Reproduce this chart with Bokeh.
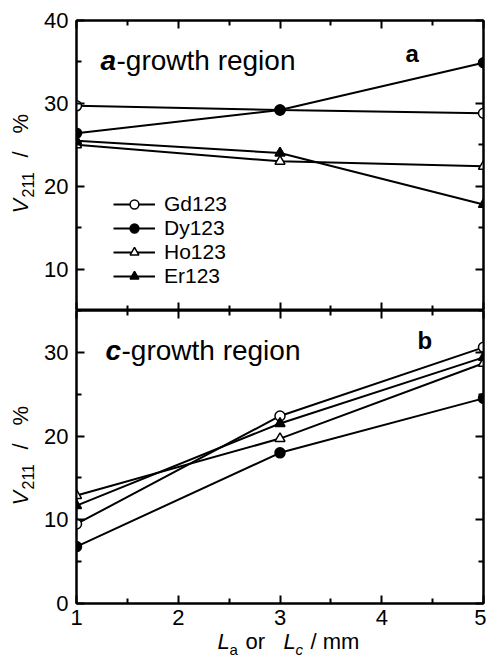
import math
from bokeh.plotting import figure
from bokeh.models import (Range1d, FixedTicker, LinearAxis, Label, Legend, LegendItem,
                          CustomJSTickFormatter)
from bokeh.layouts import column, row
from bokeh.embed import file_html
from bokeh.resources import INLINE

# ---------------- data ----------------
L = [1, 3, 5]
series_names = ["Gd123", "Dy123", "Ho123", "Er123"]
# panel a: a-growth region
a_gd = [29.7, 29.2, 28.8]
a_dy = [26.4, 29.2, 34.9]
a_ho = [25.0, 23.0, 22.4]
a_er = [25.5, 24.0, 17.8]
# panel b: c-growth region
c_gd = [9.5, 22.4, 30.6]
c_dy = [6.8, 18.0, 24.5]
c_ho = [12.9, 19.7, 28.7]
c_er = [11.7, 21.5, 29.4]

x_ticks = [1, 2, 3, 4, 5]
x_minor = [1.5, 2.5, 3.5, 4.5]
a_yticks = [10, 20, 30, 40]
b_yticks = [0, 10, 20, 30]
y_minor = [5, 15, 25, 35]

FONT = "Liberation Sans"
TICK_FS = "22px"

styles = [
    dict(marker="circle", fill="white"),
    dict(marker="circle", fill="black"),
    dict(marker="triangle", fill="white"),
    dict(marker="triangle", fill="black"),
]


def style_axis(ax, ticks, minor, labels, standoff=6):
    ax.ticker = FixedTicker(ticks=ticks, minor_ticks=minor)
    ax.axis_line_width = 2
    ax.axis_line_color = "black"
    ax.major_tick_in = 8
    ax.major_tick_out = 0
    ax.minor_tick_in = 5
    ax.minor_tick_out = 0
    ax.major_tick_line_width = 2
    ax.minor_tick_line_width = 2
    ax.major_tick_line_color = "black"
    ax.minor_tick_line_color = "black"
    if labels:
        ax.major_label_text_font = FONT
        ax.major_label_text_font_size = TICK_FS
        ax.major_label_text_color = "black"
        ax.major_label_standoff = standoff
    else:
        ax.formatter = CustomJSTickFormatter(code="return ''")
        ax.major_label_text_font_size = "1px"
        ax.major_label_standoff = 0


def make_fig(height, yr, border_top, border_bottom, yticks, bottom_labels):
    p = figure(width=446, height=height, x_range=Range1d(1, 5), y_range=Range1d(*yr),
               output_backend="svg", toolbar_location=None, title=None,
               x_axis_location=None, y_axis_location=None,
               min_border_left=36, min_border_right=3,
               min_border_top=border_top, min_border_bottom=border_bottom)
    p.grid.grid_line_color = None
    p.outline_line_color = "black"
    p.outline_line_width = 2
    p.background_fill_color = "white"
    p.border_fill_color = "white"
    left = LinearAxis()
    style_axis(left, yticks, y_minor, True, 8)
    p.add_layout(left, "left")
    right = LinearAxis()
    style_axis(right, yticks, y_minor, False)
    p.add_layout(right, "right")
    above = LinearAxis()
    style_axis(above, x_ticks, x_minor, False)
    p.add_layout(above, "above")
    below = LinearAxis()
    style_axis(below, x_ticks, x_minor, bottom_labels, 6)
    p.add_layout(below, "below")
    return p


def text_fig(width, height):
    f = figure(width=width, height=height, x_range=Range1d(0, width), y_range=Range1d(0, height),
               output_backend="svg", toolbar_location=None, title=None,
               x_axis_location=None, y_axis_location=None,
               min_border=0, min_border_left=0, min_border_right=0,
               min_border_top=0, min_border_bottom=0)
    f.grid.grid_line_color = None
    f.outline_line_color = None
    f.background_fill_color = "white"
    f.border_fill_color = "white"
    return f


def draw_series(p, data_list):
    rends = []
    for ys, st in zip(data_list, styles):
        ln = p.line(L, ys, line_color="black", line_width=2)
        sc = p.scatter(L, ys, marker=st["marker"], size=10, fill_color=st["fill"],
                       line_color="black", line_width=1.5)
        rends.append((ln, sc))
    return rends


def lab(p, text, x, y, fs, style="normal", rotated=False):
    # compensate the renderer's baseline offset (about 0.3 em)
    off = round(0.3 * fs)
    if rotated:
        x, y, angle = x - off, y, math.pi / 2
    else:
        x, y, angle = x, y + off, 0.0
    p.add_layout(Label(x=x, y=y, x_units="screen", y_units="screen", text=text,
                       text_font=FONT, text_font_size=f"{fs}px", text_font_style=style,
                       text_color="black", angle=angle, text_align="left",
                       text_baseline="alphabetic"))


def ylabel(f, y0):
    lab(f, "V", 27, y0, 22, "italic", True)
    lab(f, "211", 32, y0 + 16, 16, "normal", True)
    lab(f, "/", 27, y0 + 56, 22, "normal", True)
    lab(f, "%", 27, y0 + 80, 22, "normal", True)


# ---------------- top panel (a) ----------------
pa = make_fig(310, (5, 40), 20, 0, a_yticks, False)
ra = draw_series(pa, [a_gd, a_dy, a_ho, a_er])
items = [LegendItem(label=n, renderers=[r[0], r[1]]) for n, r in zip(series_names, ra)]
leg = Legend(items=items, location=(37, 22), glyph_width=42, glyph_height=22,
             label_standoff=9, label_text_font=FONT, label_text_font_size="21px",
             label_text_color="black", label_text_line_height=1.0,
             label_height=22, spacing=0, padding=0, margin=0,
             border_line_color=None, background_fill_alpha=0)
pa.add_layout(leg)
lab(pa, "a", 24, 242, 28, "bold italic")
lab(pa, "-growth region", 40, 242, 28)
lab(pa, "a", 329, 250, 24, "bold")

fa = text_fig(40, 310)
ylabel(fa, 97)

# ---------------- bottom panel (b) ----------------
pb = make_fig(318, (0, 35), 0, 25, b_yticks, True)
draw_series(pb, [c_gd, c_dy, c_ho, c_er])
lab(pb, "c", 29, 245, 28, "bold italic")
lab(pb, "-growth region", 45, 245, 28)
lab(pb, "b", 341, 256, 24, "bold")

fb = text_fig(40, 318)
ylabel(fb, 98)

# ---------------- x-axis label: La or Lc / mm ----------------
fx = text_fig(486, 29)
lab(fx, "L", 217, 9, 22, "italic")
lab(fx, "a", 229, 4, 15, "normal")
lab(fx, "or", 245, 9, 22)
lab(fx, "L", 283, 9, 22, "italic")
lab(fx, "c", 295, 4, 15, "italic")
lab(fx, "/ mm", 310, 9, 22)

layout = column(row(fa, pa, spacing=0), row(fb, pb, spacing=0), fx, spacing=0)
open("out.html", "w").write(file_html(layout, INLINE))
